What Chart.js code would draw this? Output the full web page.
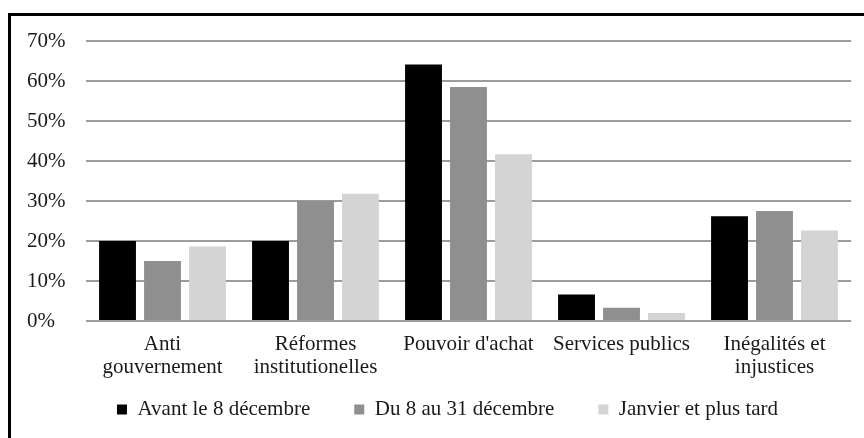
<!DOCTYPE html>
<html>
<head>
<meta charset="utf-8">
<script src="https://cdn.jsdelivr.net/npm/chart.js@4"></script>
<style>
  html, body { margin: 0; padding: 0; background: #fff; overflow: hidden; }
  #wrap { position: relative; width: 864px; height: 438px; }
  #frame { position: absolute; left: 8px; top: 13px; width: 900px; height: 500px;
           border-left: 3px solid #000; border-top: 3px solid #000; pointer-events: none; }
  canvas { position: absolute; left: 0; top: 0; }
</style>
</head>
<body>
<div id="wrap">
  <canvas id="chart" width="864" height="438"></canvas>
  <div id="frame"></div>
</div>
<script>
// catégories (axe x)
const categories = [
  ['Anti', 'gouvernement'],
  ['Réformes', 'institutionelles'],
  "Pouvoir d'achat",
  'Services publics',
  ['Inégalités et', 'injustices']
];

// séries (en %)
const avant8Dec = [20, 20, 64.1, 6.6, 26.2];
const du8au31Dec = [15, 30, 58.5, 3.3, 27.5];
const janvierPlus = [18.6, 31.8, 41.7, 2.0, 22.6];

const seriesLabels = ['Avant le 8 décembre', 'Du 8 au 31 décembre', 'Janvier et plus tard'];
const seriesColors = ['#000000', '#8f8f8f', '#d4d4d4'];

// graduations axe y
const yMin = 0;
const yMax = 70;
const yStep = 10;

Chart.defaults.font.family = "'Liberation Serif', 'Times New Roman', serif";
Chart.defaults.font.size = 21;
Chart.defaults.color = '#1a1a1a';

const data = {
  labels: categories,
  datasets: [avant8Dec, du8au31Dec, janvierPlus].map((values, i) => ({
    label: seriesLabels[i],
    data: values,
    backgroundColor: seriesColors[i],
    borderColor: seriesColors[i],
    borderWidth: 0,
    categoryPercentage: 0.882,
    barPercentage: 0.82,
  })),
};

const ctx = document.getElementById('chart').getContext('2d');
new Chart(ctx, {
  type: 'bar',
  data: data,
  options: {
    responsive: false,
    animation: false,
    devicePixelRatio: 1,
    layout: {
      padding: { left: 44, right: 13, top: 41, bottom: 8 },
    },
    plugins: {
      tooltip: { enabled: false },
      legend: {
        position: 'bottom',
        labels: {
          boxWidth: 10,
          boxHeight: 10,
          padding: 44,
          font: { size: 21 },
        },
      },
    },
    scales: {
      x: {
        grid: { display: false, drawTicks: false },
        border: { display: false },
        ticks: {
          mirror: true, // pas de découpage des libellés sur deux lignes
          padding: -35,
          maxRotation: 0,
          autoSkip: false,
          font: { size: 21, lineHeight: 1.13 },
        },
        afterFit: (scale) => { scale.height = 34; },
      },
      y: {
        min: yMin,
        max: yMax,
        grid: { color: '#9c9c9c', lineWidth: 2, drawTicks: false },
        border: { display: false },
        ticks: {
          mirror: true,
          padding: -59,
          stepSize: yStep,
          callback: (v) => v + '%',
        },
        afterFit: (scale) => { scale.width = 42; },
      },
    },
  },
});
</script>
</body>
</html>
